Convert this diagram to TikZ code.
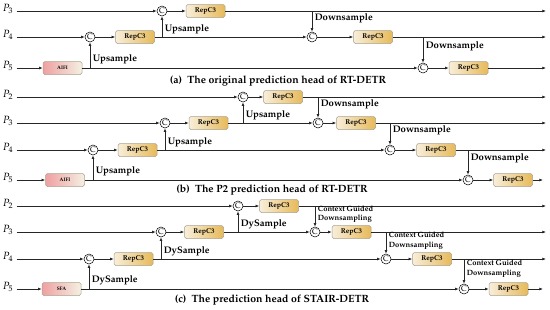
\documentclass[tikz,border=0pt]{standalone}
\usepackage[T1]{fontenc}
\usepackage{mathpazo}
\usetikzlibrary{arrows.meta}

\definecolor{repL}{HTML}{F8EEDA}
\definecolor{repR}{HTML}{E7BA5A}
\definecolor{attL}{HTML}{EFA0A2}
\definecolor{attR}{HTML}{F4F0E2}
\definecolor{boxedge}{HTML}{A9A28F}

\begin{document}
\begin{tikzpicture}[
    x=1pt, y=-1pt,
    flow/.style={-{Latex[length=3.6pt,width=2.8pt]}, line width=0.65pt, draw=black!85},
    repc/.style={draw=boxedge, line width=0.5pt, rounded corners=1.8pt, left color=repL, right color=repR,
        minimum width=39pt, minimum height=13pt, inner sep=0pt, font=\fontsize{7}{8}\selectfont\bfseries},
    attn/.style={repc, left color=attL, right color=attR, font=\fontsize{5}{6}\selectfont\bfseries},
    cat/.style={circle, draw, line width=0.5pt, inner sep=0pt, minimum size=10pt, font=\fontsize{8}{8}\selectfont},
    op/.style={right, inner sep=2.5pt, font=\fontsize{9.5}{10}\selectfont\bfseries},
    cgd/.style={right, inner sep=2.5pt, align=left, font=\fontsize{7.6}{9.5}\selectfont\bfseries},
    lvl/.style={font=\fontsize{10.5}{11}\selectfont},
    caption/.style={font=\fontsize{10.5}{12}\selectfont\bfseries}
    ]
    \useasboundingbox (0,0) rectangle (550,309);

    % (a) original head
    \node[lvl] (aP3) at (8,9) {$P_3$};
    \node[lvl] (aP4) at (8,35) {$P_4$};
    \node[lvl] (aP5) at (8,66) {$P_5$};

    \node[cat] (ac3) at (162,11) {C};
    \node[repc] (ar3) at (205.5,11) {RepC3};
    \coordinate (aE3) at (546,11);

    \node[cat] (ac4) at (90,37) {C};
    \node[repc] (ar4) at (135,37) {RepC3};
    \node[cat] (ac4b) at (312,37) {C};
    \node[repc] (ar4b) at (373,37) {RepC3};
    \coordinate (aE4) at (546,37);

    \node[attn] (aatt) at (62.5,68) {AIFI};
    \node[cat] (ac5) at (423,68) {C};
    \node[repc] (ar5) at (468.5,68) {RepC3};
    \coordinate (aE5) at (546,68);

    \draw[flow] (aP3.east |- ac3) -- (ac3);
    \draw[flow] (ac3) -- (ar3);
    \draw[flow] (ar3) -- (aE3);
    \draw[flow] (aP4.east |- ac4) -- (ac4);
    \draw[flow] (ac4) -- (ar4);
    \draw[flow] (ar4) -- (ac4b);
    \draw[flow] (ac4b) -- (ar4b);
    \draw[flow] (ar4b) -- (aE4);
    \draw[flow] (aP5.east |- aatt) -- (aatt);
    \draw[flow] (aatt) -- (ac5);
    \draw[flow] (ac5) -- (ar5);
    \draw[flow] (ar5) -- (aE5);

    \draw[flow] (ac4 |- aatt) -- node[op, pos=0.35]{Upsample} (ac4);
    \draw[flow] (ac3 |- ar4) -- node[op, pos=0.35]{Upsample} (ac3);
    \draw[flow] (ac4b |- ar3) -- node[op, pos=0.35]{Downsample} (ac4b);
    \draw[flow] (ac5 |- ar4b) -- node[op, pos=0.35]{Downsample} (ac5);

    \node[caption] (capA) at (278,81) {(a)\enspace The original prediction head of RT-DETR};

    % (b) P2 head
    \node[lvl] (bP2) at (8,95) {$P_2$};
    \node[lvl] (bP3) at (8,121) {$P_3$};
    \node[lvl] (bP4) at (8,148) {$P_4$};
    \node[lvl] (bP5) at (8,178) {$P_5$};

    \node[cat] (bc2) at (243,97) {C};
    \node[repc] (br2) at (283,97) {RepC3};
    \coordinate (bE2) at (546,97);

    \node[cat] (bc3) at (165,123) {C};
    \node[repc] (br3) at (208.5,123) {RepC3};
    \node[cat] (bc3b) at (318,123) {C};
    \node[repc] (br3b) at (356,123) {RepC3};
    \coordinate (bE3) at (546,123);

    \node[cat] (bc4) at (93,150) {C};
    \node[repc] (br4) at (137.5,150) {RepC3};
    \node[cat] (bc4b) at (390,150) {C};
    \node[repc] (br4b) at (436,150) {RepC3};
    \coordinate (bE4) at (546,150);

    \node[attn] (batt) at (65,180) {AIFI};
    \node[cat] (bc5) at (468,180) {C};
    \node[repc] (br5) at (513,180) {RepC3};
    \coordinate (bE5) at (543,180);

    \draw[flow] (bP2.east |- bc2) -- (bc2);
    \draw[flow] (bc2) -- (br2);
    \draw[flow] (br2) -- (bE2);
    \draw[flow] (bP3.east |- bc3) -- (bc3);
    \draw[flow] (bc3) -- (br3);
    \draw[flow] (br3) -- (bc3b);
    \draw[flow] (bc3b) -- (br3b);
    \draw[flow] (br3b) -- (bE3);
    \draw[flow] (bP4.east |- bc4) -- (bc4);
    \draw[flow] (bc4) -- (br4);
    \draw[flow] (br4) -- (bc4b);
    \draw[flow] (bc4b) -- (br4b);
    \draw[flow] (br4b) -- (bE4);
    \draw[flow] (bP5.east |- batt) -- (batt);
    \draw[flow] (batt) -- (bc5);
    \draw[flow] (bc5) -- (br5);
    \draw[flow] (br5) -- (bE5);

    \draw[flow] (bc4 |- batt) -- node[op, pos=0.35]{Upsample} (bc4);
    \draw[flow] (bc3 |- br4) -- node[op, pos=0.35]{Upsample} (bc3);
    \draw[flow] (bc2 |- br3) -- node[op, pos=0.35]{Upsample} (bc2);
    \draw[flow] (bc3b |- br2) -- node[op, pos=0.35]{Downsample} (bc3b);
    \draw[flow] (bc4b |- br3b) -- node[op, pos=0.35]{Downsample} (bc4b);
    \draw[flow] (bc5 |- br4b) -- node[op, pos=0.35]{Downsample} (bc5);

    \node[caption] (capB) at (272,190) {(b)\enspace The P2 prediction head of RT-DETR};

    % (c) STAIR-DETR head
    \node[lvl] (cP2) at (8,204) {$P_2$};
    \node[lvl] (cP3) at (8,230) {$P_3$};
    \node[lvl] (cP4) at (8,257) {$P_4$};
    \node[lvl] (cP5) at (8,287) {$P_5$};

    \node[cat] (cc2) at (238,206) {C};
    \node[repc] (cr2) at (279,206) {RepC3};
    \coordinate (cE2) at (546,206);

    \node[cat] (cc3) at (161,232) {C};
    \node[repc] (cr3) at (204,232) {RepC3};
    \node[cat] (cc3b) at (315,232) {C};
    \node[repc] (cr3b) at (351.5,232) {RepC3};
    \coordinate (cE3) at (546,232);

    \node[cat] (cc4) at (89,259) {C};
    \node[repc] (cr4) at (133.5,259) {RepC3};
    \node[cat] (cc4b) at (386,259) {C};
    \node[repc] (cr4b) at (432,259) {RepC3};
    \coordinate (cE4) at (546,259);

    \node[attn] (csfa) at (61.5,289) {SFA};
    \node[cat] (cc5) at (464,289) {C};
    \node[repc] (cr5) at (508.5,289) {RepC3};
    \coordinate (cE5) at (543,289);

    \draw[flow] (cP2.east |- cc2) -- (cc2);
    \draw[flow] (cc2) -- (cr2);
    \draw[flow] (cr2) -- (cE2);
    \draw[flow] (cP3.east |- cc3) -- (cc3);
    \draw[flow] (cc3) -- (cr3);
    \draw[flow] (cr3) -- (cc3b);
    \draw[flow] (cc3b) -- (cr3b);
    \draw[flow] (cr3b) -- (cE3);
    \draw[flow] (cP4.east |- cc4) -- (cc4);
    \draw[flow] (cc4) -- (cr4);
    \draw[flow] (cr4) -- (cc4b);
    \draw[flow] (cc4b) -- (cr4b);
    \draw[flow] (cr4b) -- (cE4);
    \draw[flow] (cP5.east |- csfa) -- (csfa);
    \draw[flow] (csfa) -- (cc5);
    \draw[flow] (cc5) -- (cr5);
    \draw[flow] (cr5) -- (cE5);

    \draw[flow] (cc4 |- csfa) -- node[op, pos=0.35]{DySample} (cc4);
    \draw[flow] (cc3 |- cr4) -- node[op, pos=0.35]{DySample} (cc3);
    \draw[flow] (cc2 |- cr3) -- node[op, pos=0.35]{DySample} (cc2);
    \draw[flow] (cc3b |- cr2) -- node[cgd, pos=0.4]{Context Guided\\Downsampling} (cc3b);
    \draw[flow] (cc4b |- cr3b) -- node[cgd, pos=0.4]{Context Guided\\Downsampling} (cc4b);
    \draw[flow] (cc5 |- cr4b) -- node[cgd, pos=0.4]{Context Guided\\Downsampling} (cc5);

    \node[caption] (capC) at (272,300) {(c)\enspace The prediction head of STAIR-DETR};
\end{tikzpicture}
\end{document}
